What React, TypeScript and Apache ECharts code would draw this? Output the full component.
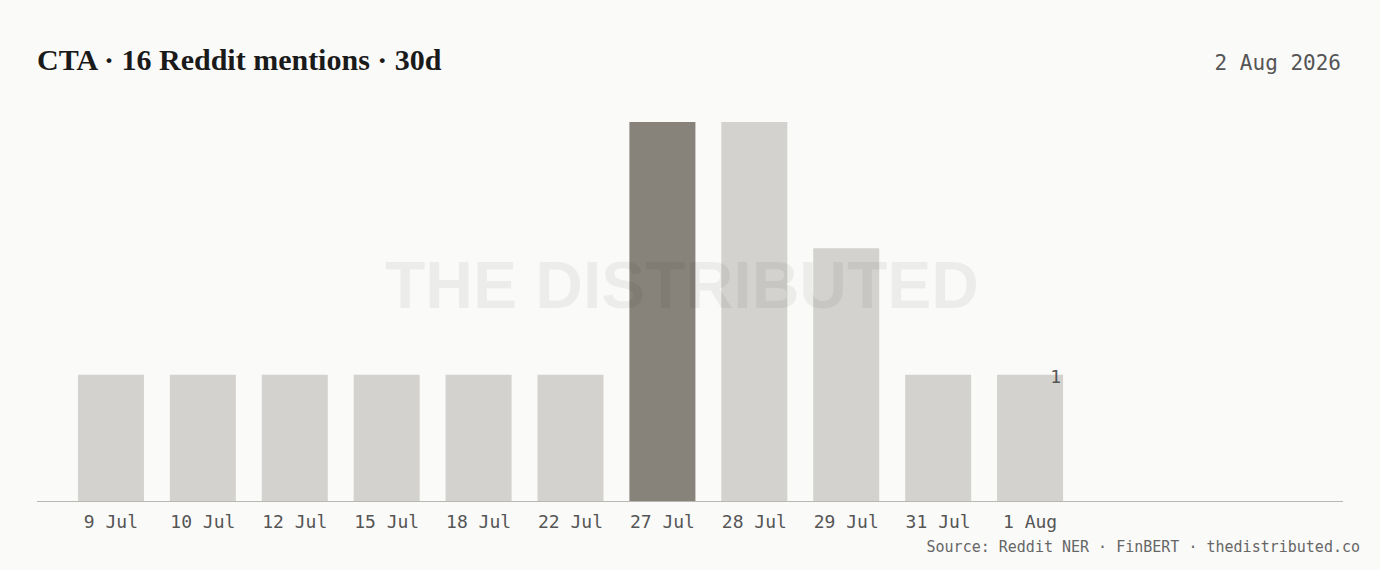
import React, { useEffect, useRef } from "react";
import * as echarts from "echarts";

const categories = ["9 Jul", "10 Jul", "12 Jul", "15 Jul", "18 Jul", "22 Jul", "27 Jul", "28 Jul", "29 Jul", "31 Jul", "1 Aug"];
const mentions = [1, 1, 1, 1, 1, 1, 3, 3, 2, 1, 1];
const highlightIndex = 6;
const lastLabelIndex = 10;
const titleText = "CTA · 16 Reddit mentions · 30d";
const dateText = "2 Aug 2026";
const footerText = "Source: Reddit NER · FinBERT · thedistributed.co";
const watermarkText = "THE DISTRIBUTED";

const MONO = "'DejaVu Sans Mono', 'Liberation Mono', monospace";

export default function App() {
  const ref = useRef<HTMLDivElement>(null);
  useEffect(() => {
    document.body.style.margin = "0";
    const chart = echarts.init(ref.current!, null, { renderer: "svg" });
    chart.setOption({
      animation: false,
      backgroundColor: "#fafaf9",
      grid: { left: 65, top: 122, width: 1011, bottom: 69, containLabel: false },
      xAxis: {
        type: "category",
        data: categories,
        axisLine: { show: false },
        axisTick: { show: false },
        axisLabel: { color: "#555", fontFamily: MONO, fontSize: 18, margin: 11 },
      },
      yAxis: {
        type: "value",
        min: 0,
        max: 3,
        show: false,
        splitLine: { show: false },
      },
      series: [
        {
          type: "bar",
          barWidth: 66,
          data: mentions.map((v, i) => ({
            value: v,
            itemStyle: { color: i === highlightIndex ? "#88837a" : "#d3d2ce" },
            label:
              i === lastLabelIndex
                ? {
                    show: true,
                    position: ["100%", 0],
                    align: "right",
                    verticalAlign: "middle",
                    offset: [-2, 2],
                    color: "#555",
                    fontFamily: MONO,
                    fontSize: 18,
                    formatter: String(v),
                  }
                : { show: false },
          })),
        },
      ],
      graphic: [
        {
          type: "line",
          shape: { x1: 37, y1: 501.5, x2: 1343, y2: 501.5 },
          style: { stroke: "#b8b8b3", lineWidth: 1.2 },
          z: 10,
        },
        {
          type: "text",
          left: 37,
          top: 44,
          style: {
            text: titleText,
            font: "bold 30px 'Liberation Serif', 'DejaVu Serif', serif",
            fill: "#1a1a1a",
          },
        },
        {
          type: "text",
          right: 39,
          top: 52,
          style: {
            text: dateText,
            font: "21px " + MONO,
            fill: "#555",
          },
        },
        {
          type: "text",
          right: 20,
          top: 539,
          style: {
            text: footerText,
            font: "15px " + MONO,
            fill: "#666",
          },
        },
        {
          type: "text",
          x: 682,
          y: 285,
          z: 20,
          style: {
            text: watermarkText,
            align: "center",
            verticalAlign: "middle",
            font: "bold 66px 'Liberation Sans', 'DejaVu Sans', sans-serif",
            fill: "rgba(0,0,0,0.055)",
          },
        },
      ],
    });
    return () => chart.dispose();
  }, []);
  return <div ref={ref} style={{ width: 1380, height: 570 }} />;
}
